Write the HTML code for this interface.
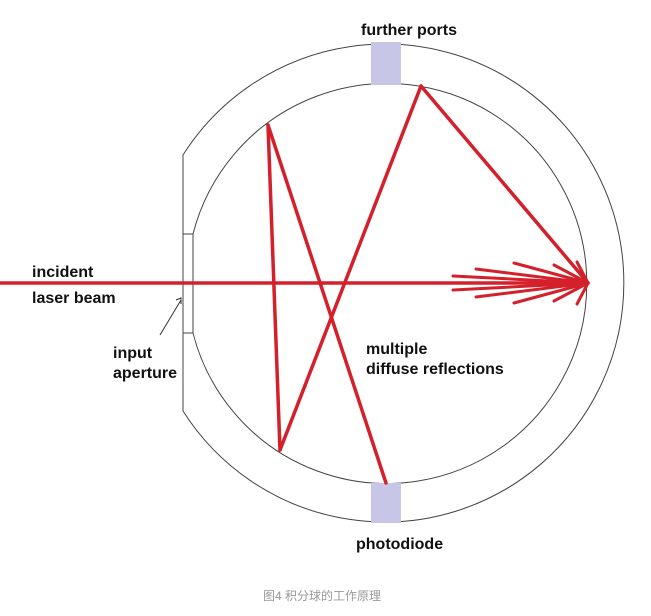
<!DOCTYPE html>
<html><head><meta charset="utf-8"><style>
body{margin:0;background:#fff;width:651px;height:616px;overflow:hidden}
svg{display:block}
text{font-family:"Liberation Sans",sans-serif;font-weight:bold;font-size:16px;fill:#111}
</style></head><body>
<svg width="651" height="616" viewBox="0 0 651 616">
<g fill="none" stroke="#444" stroke-width="1">
<path d="M183,155 A239,239 0 1 1 183,411 Z"/>
<path d="M193,234 A200,200 0 1 1 193,333"/>
<rect x="183" y="234" width="10" height="99"/>
</g>
<rect x="371" y="42" width="30" height="43" fill="#c8c6e6"/>
<rect x="371" y="483" width="30" height="40" fill="#c8c6e6"/>
<g stroke="#d4202a" stroke-width="3.5" fill="none" stroke-linecap="round">
<line x1="0" y1="283" x2="588" y2="283"/>
<line x1="268" y1="125" x2="280" y2="450"/>
<line x1="268" y1="125" x2="386" y2="483"/>
<line x1="280" y1="450" x2="421" y2="86"/>
<line x1="421" y1="86" x2="588" y2="283"/>
<g stroke-width="3">
<line x1="453" y1="276" x2="588" y2="283"/>
<line x1="453" y1="290" x2="588" y2="283"/>
<line x1="476" y1="269" x2="588" y2="283"/>
<line x1="476" y1="297" x2="588" y2="283"/>
<line x1="514" y1="263" x2="588" y2="283"/>
<line x1="514" y1="303" x2="588" y2="283"/>
<line x1="554" y1="265" x2="588" y2="283"/>
<line x1="554" y1="301" x2="588" y2="283"/>
<line x1="577" y1="262" x2="588" y2="283"/>
<line x1="577" y1="304" x2="588" y2="283"/>
</g>
</g>
<path d="M160,335 L181,300" stroke="#333" stroke-width="1" fill="none"/>
<path d="M176,300 L181,298 L181,304" stroke="#333" stroke-width="1" fill="none"/>
<text x="361" y="35">further ports</text>
<text x="32" y="277">incident</text>
<text x="32" y="303">laser beam</text>
<text x="113" y="358">input</text>
<text x="113" y="378">aperture</text>
<text x="366" y="354">multiple</text>
<text x="366" y="374">diffuse reflections</text>
<text x="356" y="549">photodiode</text>
<text x="263" y="600" style="font-size:12px;font-weight:normal;fill:#999;font-family:'Liberation Sans','Noto Sans CJK SC',sans-serif">图4 积分球的工作原理</text>
</svg>
</body></html>
